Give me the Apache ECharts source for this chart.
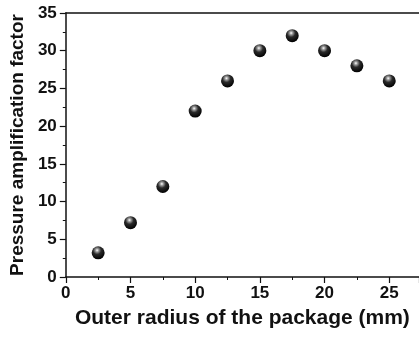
<!DOCTYPE html>
<html>
<head>
<meta charset="utf-8">
<script src="https://cdn.jsdelivr.net/npm/echarts@6/dist/echarts.min.js"></script>
<style>
  html, body { margin: 0; padding: 0; background: #fff; }
  #chart { width: 419px; height: 337px; }
</style>
</head>
<body>
<div id="chart"></div>
<script>
// Outer radius of the package (mm)
const radius = [2.5, 5, 7.5, 10, 12.5, 15, 17.5, 20, 22.5, 25];
// Pressure amplification factor
const amplification = [3.2, 7.2, 12, 22, 26, 30, 32, 30, 28, 26];

const xTitle = 'Outer radius of the package (mm)';
const yTitle = 'Pressure amplification factor';

const font = '"Liberation Sans", Arial, sans-serif';
const ink = '#111';

// glossy black bead
const sphere = {
  type: 'radial', x: 0.42, y: 0.3, r: 0.7,
  colorStops: [
    { offset: 0, color: '#ffffff' },
    { offset: 0.18, color: '#9a9a9a' },
    { offset: 0.45, color: '#2a2a2a' },
    { offset: 1, color: '#000000' }
  ]
};

const chart = echarts.init(document.getElementById('chart'), null, { renderer: 'canvas' });
chart.setOption({
  backgroundColor: '#fff',
  animation: false,
  grid: { left: 64, top: 13, right: 0, bottom: 60 },
  xAxis: [{
    type: 'value', min: 0, max: 27.3, interval: 5,
    name: xTitle, nameLocation: 'middle', nameGap: 31,
    nameTextStyle: { fontFamily: font, fontWeight: 'bold', fontSize: 21, color: ink },
    axisLine: { show: true, onZero: false, lineStyle: { color: ink, width: 1.5 } },
    axisTick: { show: true, inside: false, length: 6, lineStyle: { color: ink, width: 1.2 } },
    minorTick: { show: true, splitNumber: 2, length: 3, lineStyle: { color: ink, width: 1 } },
    axisLabel: { margin: 8, fontFamily: font, fontWeight: 'bold', fontSize: 17, color: ink, showMaxLabel: false },
    splitLine: { show: false }
  }, {
    type: 'value', position: 'top', min: 0, max: 27.3,
    axisLine: { show: true, onZero: false, lineStyle: { color: ink, width: 1.5 } },
    axisTick: { show: false }, axisLabel: { show: false }, splitLine: { show: false }
  }],
  yAxis: {
    type: 'value', min: 0, max: 35, interval: 5,
    name: yTitle, nameLocation: 'middle', nameGap: 38,
    nameTextStyle: { fontFamily: font, fontWeight: 'bold', fontSize: 19, color: ink },
    axisLine: { show: true, onZero: false, lineStyle: { color: ink, width: 1.5 } },
    axisTick: { show: true, inside: false, length: 6, lineStyle: { color: ink, width: 1.2 } },
    minorTick: { show: true, splitNumber: 2, length: 3, lineStyle: { color: ink, width: 1 } },
    axisLabel: { margin: 9, fontFamily: font, fontWeight: 'bold', fontSize: 17, color: ink },
    splitLine: { show: false }
  },
  series: [{
    type: 'scatter',
    xAxisIndex: 0,
    data: radius.map((r, i) => [r, amplification[i]]),
    symbol: 'circle',
    symbolSize: 13,
    itemStyle: { color: sphere, opacity: 1 }
  }]
});
</script>
</body>
</html>
